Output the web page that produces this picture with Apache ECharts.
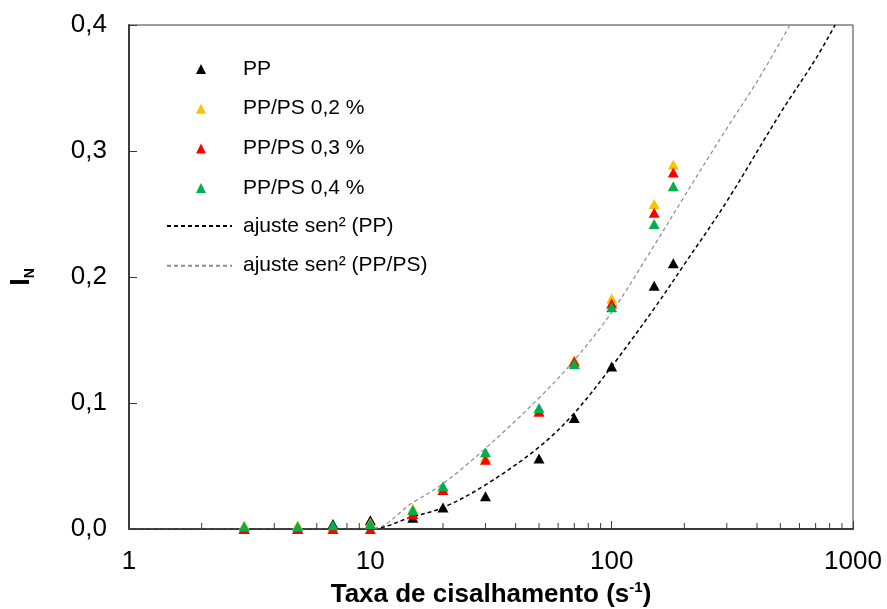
<!DOCTYPE html>
<html>
<head>
<meta charset="utf-8">
<script src="https://cdn.jsdelivr.net/npm/echarts@6/dist/echarts.min.js"></script>
<style>
  html, body { margin: 0; padding: 0; background: #fff; }
  #chart { width: 887px; height: 609px; }
</style>
</head>
<body>
<div id="chart"></div>
<script>
// Shear rates (s^-1) at which I_N was measured
const shearRates = [3, 5, 7, 10, 15, 20, 30, 50, 70, 100, 150, 180];

// Normalised intensity I_N for each material
const ppValues   = [0, 0, 0.004, 0.007, 0.009, 0.017, 0.026, 0.056, 0.088, 0.129, 0.193, 0.211];
const ps02Values = [0.003, 0.003, 0.002, 0.005, 0.016, 0.033, 0.057, 0.094, 0.134, 0.183, 0.258, 0.289];
const ps03Values = [0, 0, 0, 0, 0.012, 0.031, 0.055, 0.093, 0.133, 0.179, 0.251, 0.283];
const ps04Values = [0.002, 0.002, 0.003, 0.004, 0.015, 0.034, 0.061, 0.096, 0.131, 0.176, 0.242, 0.272];

// sin^2 fit curves
const fitPPRates = [1, 10, 15, 20, 30, 50, 70, 100, 150, 200, 300, 500, 700, 843];
const fitPPValues = [0, 0, 0.0098, 0.017, 0.035, 0.065, 0.092, 0.129, 0.175, 0.21, 0.26, 0.33, 0.373, 0.4];
const fitPSRates = [1, 10, 15, 20, 30, 50, 70, 100, 150, 200, 300, 400, 548];
const fitPSValues = [0, 0, 0.021, 0.036, 0.064, 0.104, 0.134, 0.172, 0.225, 0.264, 0.318, 0.355, 0.4];

// Minor tick positions on the logarithmic shear-rate axis
const minorTicks = [2, 3, 4, 5, 6, 7, 8, 9, 20, 30, 40, 50, 60, 70, 80, 90, 200, 300, 400, 500, 600, 700, 800, 900];

// Series names
const seriesNames = ['PP', 'PP/PS 0,2 %', 'PP/PS 0,3 %', 'PP/PS 0,4 %'];
const fitNames = ['ajuste sen² (PP)', 'ajuste sen² (PP/PS)'];

const FONT = '"Liberation Sans", Arial, sans-serif';
const AXIS_COLOR = '#3a3a3a';

const pairs = (xs, ys) => xs.map((x, i) => [x, ys[i]]);

const chart = echarts.init(document.getElementById('chart'), null, { renderer: 'canvas' });

function scatter(name, values, color) {
  return {
    name: name,
    type: 'scatter',
    symbol: 'triangle',
    symbolSize: [11, 10],
    itemStyle: { color: color, opacity: 1 },
    data: pairs(shearRates, values),
    z: 5
  };
}

function fitLine(name, xs, ys, color, width) {
  return {
    name: name,
    type: 'line',
    smooth: 0.35,
    symbol: 'none',
    lineStyle: { color: color, width: width, type: [4, 3] },
    itemStyle: { color: color },
    data: pairs(xs, ys),
    z: 3
  };
}

const option = {
  animation: false,
  backgroundColor: '#fff',
  textStyle: { fontFamily: FONT },
  grid: {
    left: 129, right: 34, top: 25, bottom: 80,
    outerBoundsMode: 'none',
    containLabel: false,
    show: true, borderColor: AXIS_COLOR, borderWidth: 1
  },
  legend: [
    {
      data: seriesNames,
      orient: 'vertical',
      left: 191, top: 53.5,
      itemWidth: 10, itemHeight: 10,
      itemGap: 18.7,
      icon: 'triangle',
      textStyle: { fontSize: 21, fontFamily: FONT, color: '#000', lineHeight: 21, padding: [0, 0, 0, 32] }
    },
    {
      data: fitNames,
      orient: 'vertical',
      left: 161, top: 210.5,
      itemWidth: 65, itemHeight: 10,
      itemGap: 18.7,
      itemStyle: { opacity: 0 },
      textStyle: { fontSize: 21, fontFamily: FONT, color: '#000', lineHeight: 21, padding: [0, 0, 0, 6] }
    }
  ],
  xAxis: {
    type: 'log',
    logBase: 10,
    min: 1, max: 1000,
    name: '{t|Taxa de cisalhamento (s}{sup|-1}{t|)}',
    nameLocation: 'middle',
    nameGap: 50,
    nameTextStyle: {
      rich: {
        t: { fontSize: 26, fontWeight: 'bold', fontFamily: FONT, color: '#000', lineHeight: 30 },
        sup: { fontSize: 15, fontWeight: 'bold', fontFamily: FONT, color: '#000', lineHeight: 30, verticalAlign: 'top', padding: [0, 0, 10, 0] }
      }
    },
    axisLine: { show: true, onZero: false, lineStyle: { color: AXIS_COLOR, width: 2 } },
    axisTick: { show: true, inside: true, length: 8, lineStyle: { color: AXIS_COLOR, width: 1 } },
    axisLabel: {
      fontSize: 26, fontFamily: FONT, color: '#000', margin: 20,
      formatter: v => String(Math.round(v))
    },
    splitLine: { show: false },
    minorTick: { show: false }
  },
  yAxis: {
    type: 'value',
    min: 0, max: 0.4, interval: 0.1,
    name: '{i|I}{n|N}',
    nameLocation: 'middle',
    nameGap: 92,
    nameRotate: 90,
    nameTextStyle: {
      rich: {
        i: { fontSize: 27, fontWeight: 'bold', fontFamily: FONT, color: '#000', lineHeight: 30 },
        n: { fontSize: 14, fontWeight: 'bold', fontFamily: FONT, color: '#000', lineHeight: 30, verticalAlign: 'bottom', padding: [12, 0, 0, 0] }
      }
    },
    axisLine: { show: true, lineStyle: { color: AXIS_COLOR, width: 2 } },
    axisTick: { show: true, inside: true, length: 8, lineStyle: { color: AXIS_COLOR, width: 1 } },
    axisLabel: {
      fontSize: 26, fontFamily: FONT, color: '#000', margin: 22,
      formatter: v => v.toFixed(1).replace('.', ',')
    },
    splitLine: { show: false }
  },
  series: [
    fitLine(fitNames[0], fitPPRates, fitPPValues, '#000000', 1.5),
    fitLine(fitNames[1], fitPSRates, fitPSValues, '#8c8c8c', 1.2),
    {
      type: 'custom',
      silent: true,
      clip: false,
      z: 4,
      data: minorTicks.map(v => [v, 0]),
      renderItem: function (params, api) {
        const p = api.coord([api.value(0), 0]);
        return {
          type: 'line',
          shape: { x1: p[0], y1: p[1] - 1, x2: p[0], y2: p[1] - 6 },
          style: { stroke: AXIS_COLOR, lineWidth: 1 }
        };
      }
    },
    scatter(seriesNames[0], ppValues, '#000000'),
    scatter(seriesNames[1], ps02Values, '#FFC000'),
    scatter(seriesNames[2], ps03Values, '#FF0000'),
    scatter(seriesNames[3], ps04Values, '#00B050')
  ]
};

chart.setOption(option);
</script>
</body>
</html>
